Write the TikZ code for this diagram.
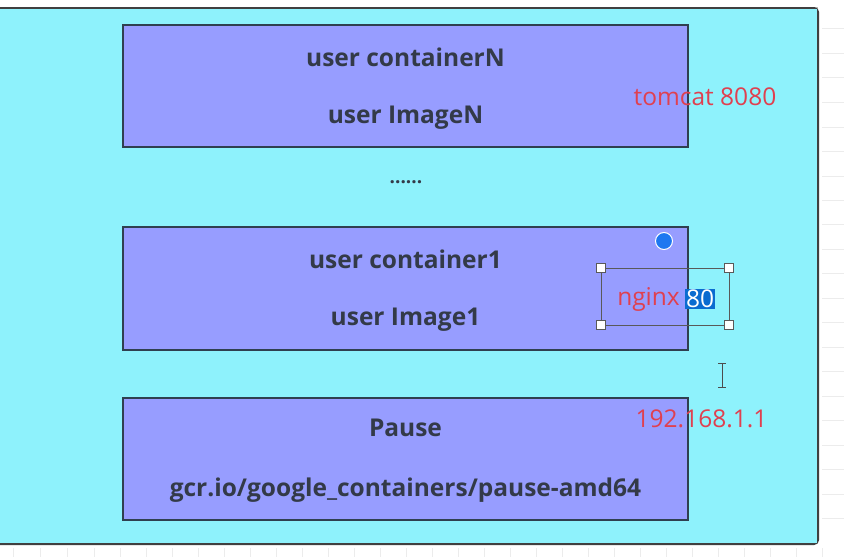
\documentclass[tikz,border=0pt]{standalone}
\usepackage{fontspec}
\setmainfont{Open Sans}
\definecolor{bgcyan}{HTML}{8EF2FC}
\definecolor{boxfill}{HTML}{979DFF}
\definecolor{boxline}{HTML}{2F4050}
\definecolor{txtdark}{HTML}{333A48}
\definecolor{redtxt}{HTML}{E0404F}
\definecolor{selblue}{HTML}{0A6CD0}
\definecolor{dotblue}{HTML}{1E78F0}
\definecolor{gridc}{HTML}{ECECEC}
\begin{document}
\begin{tikzpicture}[x=1pt,y=-1pt,
  layer/.style={draw=boxline,line width=2.6pt,fill=boxfill},
  ltext/.style={text=txtdark,font=\bfseries\fontsize{24.5}{28}\selectfont,inner sep=0pt},
  rtext/.style={text=redtxt,font=\fontsize{24.5}{28}\selectfont,inner sep=0pt},
  handle/.style={draw=black!65,fill=white,line width=0.9pt,minimum size=9.5pt,inner sep=0pt}]
\useasboundingbox (0,0) rectangle (844,557);
\fill[white] (0,0) rectangle (844,557);
% faint grid outside
\foreach \y in {28,53,77,102,127,151,176,200,224,249,273,298,322,347,371,396,420,445,469,494,518}
  \draw[gridc,line width=0.8pt] (822,\y) -- (844,\y);
\foreach \x in {13,40,67,94,120,146,172,198,224,250,276,302,328,354,380,406,432,458,484,510,536,562,588,614,640,666,692,718,744,770,796,822}
  \draw[gridc,line width=0.8pt] (\x,548) -- (\x,557);
% outer pod
\draw[black!25,line width=1pt] (-5,7) -- (818,7);
\filldraw[fill=bgcyan,draw=black!75,line width=2pt,rounded corners=4pt] (-10,8) rectangle (818,544);
\fill[bgcyan] (-10,9) rectangle (816.5,542.5);
% layers
\draw[layer] (123,25) rectangle (688,147);
\draw[layer] (123,227) rectangle (688,350);
\draw[layer] (123,398) rectangle (688,520);
\node[ltext] (cn) at (405.5,57) {user containerN};
\node[ltext] (in) at (405.5,118) {user ImageN};
\node[ltext,font=\bfseries\fontsize{19}{22}\selectfont] (dots) at (406,182) {......};
\node[ltext] (c1) at (405.5,259) {user container1};
\node[ltext] (i1) at (405.5,320) {user Image1};
\node[ltext] (pa) at (405.5,428) {Pause};
\node[ltext] (gc) at (405.5,490) {gcr.io/google\_containers/pause-amd64};
% annotations
\node[rtext] (tom) at (705,97) {tomcat 8080};
\node[rtext,anchor=east] (ngx) at (680,299) {nginx};
\node[fill=selblue,text=white,font=\fontsize{24.5}{28}\selectfont,inner sep=1pt,anchor=west] (eighty) at (685,299) {80};
\draw[black!65,line width=0.9pt] (601,268) rectangle (729,325);
\node[handle] (h1) at (601,268) {};
\node[handle] (h2) at (729,268) {};
\node[handle] (h3) at (601,325) {};
\node[handle] (h4) at (729,325) {};
\filldraw[fill=dotblue,draw=white,line width=1pt] (664,241) circle (8.5);
\node[rtext] (ip) at (701.5,419) {192.168.1.1};
% I-beam cursor
\draw[black!70,line width=1pt] (722,363) -- (722,387) (718,363) -- (726,363) (718,387) -- (726,387);
\end{tikzpicture}
\end{document}
